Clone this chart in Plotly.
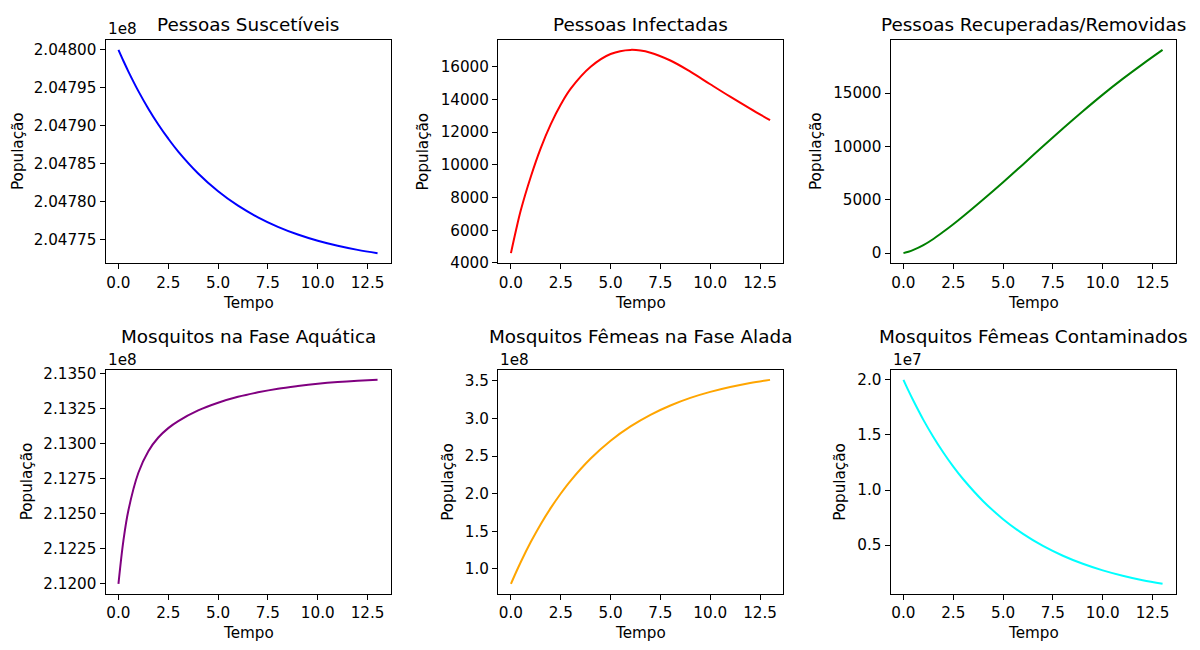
import plotly.graph_objects as go

# ---------------- data ----------------
tempo = [0, 0.25, 0.5, 1, 1.5, 2, 2.5, 3, 4, 5, 6, 7, 8, 9, 10, 11, 12, 13]

suscetiveis = [204800000, 204798540, 204797150, 204794580, 204792270, 204790190,
               204788320, 204786630, 204783750, 204781410, 204779510, 204777980,
               204776730, 204775720, 204774900, 204774240, 204773700, 204773270]

infectadas = [4600, 5980, 7250, 9290, 11040, 12490, 13690, 14660, 16000, 16780,
              17030, 16860, 16380, 15700, 14930, 14170, 13440, 12730]

recuperadas = [0, 130, 300, 750, 1330, 2000, 2710, 3460, 5030, 6650, 8320, 10010,
               11680, 13300, 14860, 16330, 17720, 19050]

aquatica = [212000000, 212310000, 212525000, 212792000, 212946000, 213043000,
            213110000, 213160000, 213236000, 213291000, 213333000, 213365000,
            213391000, 213410000, 213426000, 213438000, 213447000, 213454000]

aladas = [80000000, 95100000, 109450000, 135900000, 159700000, 181000000,
          200200000, 217400000, 246700000, 270400000, 289400000, 304800000,
          317200000, 327300000, 335300000, 341800000, 347100000, 351300000]

contaminados = [20000000, 19020000, 18100000, 16370000, 14820000, 13410000,
                12130000, 10980000, 8990000, 7360000, 6020000, 4930000,
                4040000, 3310000, 2710000, 2220000, 1810000, 1490000]

titulos = ["Pessoas Suscetíveis", "Pessoas Infectadas", "Pessoas Recuperadas/Removidas",
           "Mosquitos na Fase Aquática", "Mosquitos Fêmeas na Fase Alada",
           "Mosquitos Fêmeas Contaminados"]
cores = ["blue", "red", "green", "purple", "orange", "cyan"]

x_tickvals = [0, 2.5, 5, 7.5, 10, 12.5]
x_ticktext = ["0.0", "2.5", "5.0", "7.5", "10.0", "12.5"]

s_tickvals = [204775000, 204780000, 204785000, 204790000, 204795000, 204800000]
s_ticktext = ["2.04775", "2.04780", "2.04785", "2.04790", "2.04795", "2.04800"]
i_tickvals = [4000, 6000, 8000, 10000, 12000, 14000, 16000]
i_ticktext = ["4000", "6000", "8000", "10000", "12000", "14000", "16000"]
r_tickvals = [0, 5000, 10000, 15000]
r_ticktext = ["0", "5000", "10000", "15000"]
a_tickvals = [212000000, 212250000, 212500000, 212750000, 213000000, 213250000, 213500000]
a_ticktext = ["2.1200", "2.1225", "2.1250", "2.1275", "2.1300", "2.1325", "2.1350"]
m_tickvals = [100000000, 150000000, 200000000, 250000000, 300000000, 350000000]
m_ticktext = ["1.0", "1.5", "2.0", "2.5", "3.0", "3.5"]
c_tickvals = [5000000, 10000000, 15000000, 20000000]
c_ticktext = ["0.5", "1.0", "1.5", "2.0"]

offsets = ["1e8", "", "", "1e8", "1e8", "1e7"]

series = [suscetiveis, infectadas, recuperadas, aquatica, aladas, contaminados]
yticks = [(s_tickvals, s_ticktext), (i_tickvals, i_ticktext), (r_tickvals, r_ticktext),
          (a_tickvals, a_ticktext), (m_tickvals, m_ticktext), (c_tickvals, c_ticktext)]

# ---------------- layout geometry (pixels of a 1200x650 page) ----------------
W, H = 1200, 650
col_px = [(105.5, 390.5), (498, 783), (890.5, 1175.5)]
row_px = [(35.5, 264), (372.7, 602)]
ylabel_x = [17.5, 423, 815.5, 26.5, 448, 840]
title_y = [19.5, 339]
tempo_y = [305, 642]
offset_y = [25, 362.5]

FONT = "DejaVu Sans"
FS = 15.2      # tick labels, axis labels, offset text
FT = 18.4      # subplot titles

fig = go.Figure()
layout = dict(
    width=W, height=H,
    margin=dict(l=0, r=0, t=0, b=0),
    paper_bgcolor="white", plot_bgcolor="white",
    showlegend=False,
    font=dict(family=FONT, size=FS, color="black"),
    annotations=[],
)

xr = [min(tempo) - 0.05 * (max(tempo) - min(tempo)), max(tempo) + 0.05 * (max(tempo) - min(tempo))]

for k in range(6):
    r, c = divmod(k, 3)
    ax = "" if k == 0 else str(k + 1)
    x0, x1 = col_px[c]
    ytop, ybot = row_px[r]
    xd = [x0 / W, x1 / W]
    yd = [1 - ybot / H, 1 - ytop / H]
    vals = series[k]
    span = max(vals) - min(vals)
    yr = [min(vals) - 0.05 * span, max(vals) + 0.05 * span]

    fig.add_trace(go.Scatter(x=tempo, y=vals, mode="lines",
                             line=dict(color=cores[k], width=2, shape="spline", smoothing=1),
                             xaxis="x" + ax, yaxis="y" + ax, hoverinfo="x+y"))

    common = dict(showgrid=False, zeroline=False, showline=True, linecolor="black",
                  linewidth=1, mirror=True, ticks="outside", ticklen=5, tickwidth=1,
                  tickcolor="black", tickfont=dict(family=FONT, size=FS, color="black"),
                  fixedrange=True)
    layout["xaxis" + ax] = dict(domain=xd, range=xr, anchor="y" + ax,
                                tickmode="array", tickvals=x_tickvals, ticktext=x_ticktext,
                                **common)
    layout["yaxis" + ax] = dict(domain=yd, range=yr, anchor="x" + ax,
                                tickmode="array", tickvals=yticks[k][0], ticktext=yticks[k][1],
                                **common)

    xc = (x0 + x1) / 2 / W
    layout["annotations"].append(dict(text=titulos[k], x=xc, y=1 - title_y[r] / H,
                                      xref="paper", yref="paper", xanchor="center",
                                      yanchor="middle", showarrow=False,
                                      font=dict(family=FONT, size=FT, color="black")))
    layout["annotations"].append(dict(text="Tempo", x=xc, y=1 - tempo_y[r] / H,
                                      xref="paper", yref="paper", xanchor="center",
                                      yanchor="middle", showarrow=False,
                                      font=dict(family=FONT, size=FS, color="black")))
    layout["annotations"].append(dict(text="População", x=ylabel_x[k] / W,
                                      y=1 - ((ytop + ybot) / 2) / H,
                                      xref="paper", yref="paper", xanchor="center",
                                      yanchor="middle", textangle=-90, showarrow=False,
                                      font=dict(family=FONT, size=FS, color="black")))
    if offsets[k]:
        layout["annotations"].append(dict(text=offsets[k], x=x0 / W, y=1 - offset_y[r] / H,
                                          xref="paper", yref="paper", xanchor="left",
                                          yanchor="middle", showarrow=False,
                                          font=dict(family=FONT, size=FS, color="black")))

fig.update_layout(**layout)
fig.write_html("out.html")
